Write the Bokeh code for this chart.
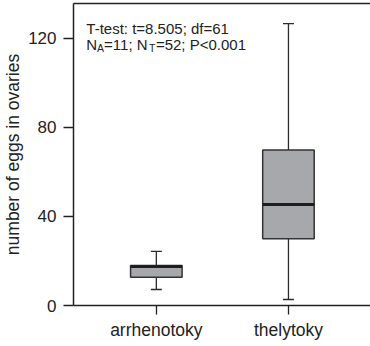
from bokeh.plotting import figure
from bokeh.models import Range1d, FixedTicker, LinearAxis, ColumnDataSource, Label
from bokeh.embed import file_html
from bokeh.resources import INLINE

# ---- data ----
categories = ["arrhenotoky", "thelytoky"]
lower_whisker = [7.2, 2.7]
q1 = [12.7, 30.0]
median = [17.5, 45.4]
q3 = [18.0, 69.9]
upper_whisker = [24.3, 126.7]
y_ticks = [0, 40, 80, 120]
annot_line1 = "T-test: t=8.505; df=61"
annot_line2 = [("N", False), ("A", True), ("=11; N", False), ("T", True), ("=52; P<0.001", False)]
y_label = "number of eggs in ovaries"

FONT = "Liberation Sans"
W, H = 370, 346
X0, X1 = -0.627, 1.621
Y0, Y1 = 0, 135.7

xs = list(range(len(categories)))
src = ColumnDataSource(dict(x=xs, lo=lower_whisker, q1=q1, med=median, q3=q3, hi=upper_whisker))

p = figure(width=W, height=H, output_backend="svg", toolbar_location=None,
           x_range=Range1d(X0, X1), y_range=Range1d(Y0, Y1),
           min_border_left=69, min_border_right=0, min_border_top=3, min_border_bottom=41)
p.grid.visible = False
p.outline_line_color = None
p.background_fill_color = "white"
p.border_fill_color = "white"

# whiskers
p.segment(x0="x", y0="q3", x1="x", y1="hi", source=src, line_color="#2b2b2b", line_width=1.3)
p.segment(x0="x", y0="lo", x1="x", y1="q1", source=src, line_color="#2b2b2b", line_width=1.3)
p.scatter(x="x", y="hi", source=src, marker="dash", size=11, line_color="#2b2b2b", line_width=1.3)
p.scatter(x="x", y="lo", source=src, marker="dash", size=11, line_color="#2b2b2b", line_width=1.3)
# boxes
p.vbar(x="x", width=0.39, bottom="q1", top="q3", source=src,
       fill_color="#a7a8ab", line_color="#333333", line_width=1.5)
# medians
p.vbar(x="x", width=0.39, bottom="med", top="med", source=src,
       fill_color=None, line_color="#1e1e1e", line_width=3)

# axes
xa = p.xaxis[0]
xa.ticker = FixedTicker(ticks=xs)
xa.major_label_overrides = {i: c for i, c in enumerate(categories)}
xa.minor_tick_line_color = None
xa.major_tick_in = 0
xa.major_tick_out = 9
xa.major_label_standoff = 5
xa.major_label_text_font = FONT
xa.major_label_text_font_size = "17.5px"
xa.major_label_text_color = "#222222"
xa.axis_line_width = 1.5
xa.axis_line_color = "#222222"
xa.major_tick_line_color = "#222222"
xa.major_tick_line_width = 1.3

ya = p.yaxis[0]
ya.ticker = FixedTicker(ticks=y_ticks)
ya.minor_tick_line_color = None
ya.major_tick_in = 0
ya.major_tick_out = 10
ya.major_label_standoff = 7
ya.major_label_text_font = FONT
ya.major_label_text_font_size = "17px"
ya.major_label_text_color = "#222222"
ya.axis_label = y_label
ya.axis_label_text_font = FONT
ya.axis_label_text_font_size = "17.5px"
ya.axis_label_text_font_style = "normal"
ya.axis_label_text_color = "#222222"
ya.axis_label_standoff = 2
ya.axis_line_width = 1.5
ya.axis_line_color = "#222222"
ya.major_tick_line_color = "#222222"
ya.major_tick_line_width = 1.3

top = LinearAxis(ticker=FixedTicker(ticks=[]), axis_line_width=1.5, axis_line_color="#222222",
                 major_tick_line_color=None, minor_tick_line_color=None,
                 major_label_text_font_size="0px")
p.add_layout(top, "above")

# annotation (positions given in screen pixels, converted to data)
FRAME_L, FRAME_R, FRAME_T, FRAME_B = 69, W, 3, 305
def dx(px):
    return X0 + (px - FRAME_L) / (FRAME_R - FRAME_L) * (X1 - X0)
def dy(py):
    return Y1 - (py - FRAME_T) / (FRAME_B - FRAME_T) * (Y1 - Y0)

p.add_layout(Label(x=dx(82), y=dy(27.5), text=annot_line1, text_font=FONT,
                   text_font_size="15px", text_color="#222222", text_baseline="alphabetic"))

widths = {"N": 10.8, "A": 7.2, "=11; N": 45.5, "T": 7.0}
cur = 82
for txt, sub in annot_line2:
    if sub:
        p.add_layout(Label(x=dx(cur), y=dy(47), text=txt, text_font=FONT, text_font_size="10.5px",
                           text_color="#222222", text_baseline="alphabetic"))
    else:
        p.add_layout(Label(x=dx(cur), y=dy(43.5), text=txt, text_font=FONT, text_font_size="15px",
                           text_color="#222222", text_baseline="alphabetic"))
    cur += widths.get(txt, 0)

open("out.html", "w").write(file_html(p, INLINE))
